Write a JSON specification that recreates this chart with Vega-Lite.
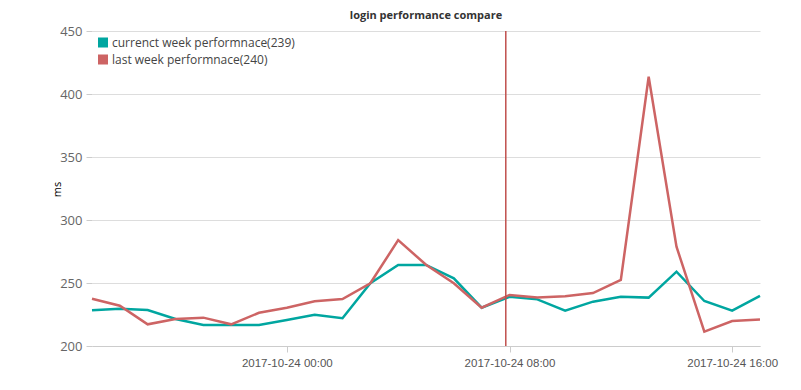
{
  "$schema": "https://vega.github.io/schema/vega-lite/v6.json",
  "autosize": "none",
  "width": 668,
  "height": 315,
  "padding": {"left": 92, "top": 31, "right": 41, "bottom": 44},
  "background": "white",
  "title": {"text": "login performance compare", "fontSize": 11, "fontWeight": "bold", "color": "#333333", "font": "Open Sans", "anchor": "middle", "offset": 4},
  "config": {"view": {"stroke": null}},
  "datasets": {
    "perf": [
      {"time": "2017-10-23T17:00:00Z", "series": "currenct week performnace(239)", "ms": 228.3},
      {"time": "2017-10-23T18:00:00Z", "series": "currenct week performnace(239)", "ms": 229.6},
      {"time": "2017-10-23T19:00:00Z", "series": "currenct week performnace(239)", "ms": 228.6},
      {"time": "2017-10-23T20:00:00Z", "series": "currenct week performnace(239)", "ms": 221.4},
      {"time": "2017-10-23T21:00:00Z", "series": "currenct week performnace(239)", "ms": 216.7},
      {"time": "2017-10-23T22:00:00Z", "series": "currenct week performnace(239)", "ms": 216.7},
      {"time": "2017-10-23T23:00:00Z", "series": "currenct week performnace(239)", "ms": 216.7},
      {"time": "2017-10-24T00:00:00Z", "series": "currenct week performnace(239)", "ms": 220.6},
      {"time": "2017-10-24T01:00:00Z", "series": "currenct week performnace(239)", "ms": 224.8},
      {"time": "2017-10-24T02:00:00Z", "series": "currenct week performnace(239)", "ms": 222.0},
      {"time": "2017-10-24T03:00:00Z", "series": "currenct week performnace(239)", "ms": 249.8},
      {"time": "2017-10-24T04:00:00Z", "series": "currenct week performnace(239)", "ms": 264.3},
      {"time": "2017-10-24T05:00:00Z", "series": "currenct week performnace(239)", "ms": 264.3},
      {"time": "2017-10-24T06:00:00Z", "series": "currenct week performnace(239)", "ms": 253.7},
      {"time": "2017-10-24T07:00:00Z", "series": "currenct week performnace(239)", "ms": 230.4},
      {"time": "2017-10-24T08:00:00Z", "series": "currenct week performnace(239)", "ms": 239.1},
      {"time": "2017-10-24T09:00:00Z", "series": "currenct week performnace(239)", "ms": 237.0},
      {"time": "2017-10-24T10:00:00Z", "series": "currenct week performnace(239)", "ms": 228.0},
      {"time": "2017-10-24T11:00:00Z", "series": "currenct week performnace(239)", "ms": 235.2},
      {"time": "2017-10-24T12:00:00Z", "series": "currenct week performnace(239)", "ms": 239.1},
      {"time": "2017-10-24T13:00:00Z", "series": "currenct week performnace(239)", "ms": 238.4},
      {"time": "2017-10-24T14:00:00Z", "series": "currenct week performnace(239)", "ms": 259.0},
      {"time": "2017-10-24T15:00:00Z", "series": "currenct week performnace(239)", "ms": 235.7},
      {"time": "2017-10-24T16:00:00Z", "series": "currenct week performnace(239)", "ms": 228.0},
      {"time": "2017-10-24T17:00:00Z", "series": "currenct week performnace(239)", "ms": 239.7},
      {"time": "2017-10-23T17:00:00Z", "series": "last week performnace(240)", "ms": 237.5},
      {"time": "2017-10-23T18:00:00Z", "series": "last week performnace(240)", "ms": 232.0},
      {"time": "2017-10-23T19:00:00Z", "series": "last week performnace(240)", "ms": 217.2},
      {"time": "2017-10-23T20:00:00Z", "series": "last week performnace(240)", "ms": 221.4},
      {"time": "2017-10-23T21:00:00Z", "series": "last week performnace(240)", "ms": 222.5},
      {"time": "2017-10-23T22:00:00Z", "series": "last week performnace(240)", "ms": 217.2},
      {"time": "2017-10-23T23:00:00Z", "series": "last week performnace(240)", "ms": 226.4},
      {"time": "2017-10-24T00:00:00Z", "series": "last week performnace(240)", "ms": 230.4},
      {"time": "2017-10-24T01:00:00Z", "series": "last week performnace(240)", "ms": 235.5},
      {"time": "2017-10-24T02:00:00Z", "series": "last week performnace(240)", "ms": 237.3},
      {"time": "2017-10-24T03:00:00Z", "series": "last week performnace(240)", "ms": 249.8},
      {"time": "2017-10-24T04:00:00Z", "series": "last week performnace(240)", "ms": 284.0},
      {"time": "2017-10-24T05:00:00Z", "series": "last week performnace(240)", "ms": 264.5},
      {"time": "2017-10-24T06:00:00Z", "series": "last week performnace(240)", "ms": 249.8},
      {"time": "2017-10-24T07:00:00Z", "series": "last week performnace(240)", "ms": 230.4},
      {"time": "2017-10-24T08:00:00Z", "series": "last week performnace(240)", "ms": 240.5},
      {"time": "2017-10-24T09:00:00Z", "series": "last week performnace(240)", "ms": 238.4},
      {"time": "2017-10-24T10:00:00Z", "series": "last week performnace(240)", "ms": 239.4},
      {"time": "2017-10-24T11:00:00Z", "series": "last week performnace(240)", "ms": 242.0},
      {"time": "2017-10-24T12:00:00Z", "series": "last week performnace(240)", "ms": 252.4},
      {"time": "2017-10-24T13:00:00Z", "series": "last week performnace(240)", "ms": 413.7},
      {"time": "2017-10-24T14:00:00Z", "series": "last week performnace(240)", "ms": 278.8},
      {"time": "2017-10-24T15:00:00Z", "series": "last week performnace(240)", "ms": 211.4},
      {"time": "2017-10-24T16:00:00Z", "series": "last week performnace(240)", "ms": 219.8},
      {"time": "2017-10-24T17:00:00Z", "series": "last week performnace(240)", "ms": 221.0}
    ],
    "marker": [
      {"time": "2017-10-24T07:52:00Z"}
    ]
  },
  "encoding": {
    "x": {
      "field": "time", "type": "temporal",
      "scale": {"type": "utc", "domain": [{"year": 2017, "month": 10, "date": 23, "hours": 17, "utc": true}, {"year": 2017, "month": 10, "date": 24, "hours": 17, "utc": true}], "nice": false},
      "axis": {
        "title": null,
        "values": [{"year": 2017, "month": 10, "date": 24, "hours": 0, "utc": true}, {"year": 2017, "month": 10, "date": 24, "hours": 8, "utc": true}, {"year": 2017, "month": 10, "date": 24, "hours": 16, "utc": true}],
        "labelExpr": "utcFormat(datum.value, '%Y-%m-%d %H:%M')",
        "grid": false, "domainColor": "#cccccc", "tickColor": "#cccccc", "tickSize": 6,
        "labelColor": "#555555", "labelFont": "Liberation Sans", "labelFontSize": 11.5, "labelPadding": 5
      }
    }
  },
  "layer": [
    {
      "data": {"name": "perf"},
      "mark": {"type": "line", "strokeWidth": 2.5},
      "encoding": {
        "y": {
          "field": "ms", "type": "quantitative",
          "scale": {"domain": [200, 450], "nice": false, "zero": false},
          "axis": {
            "title": "ms", "titleFont": "Open Sans", "titleFontSize": 11, "titleFontWeight": "normal", "titleColor": "#000000",
            "titleX": -35, "titleY": 158, "titleAngle": -90, "titleBaseline": "middle", "titleAlign": "center",
            "values": [200, 250, 300, 350, 400, 450],
            "domain": false, "tickColor": "#cccccc", "tickSize": 6,
            "gridColor": "#dddddd", "labelColor": "#666666", "labelFont": "Open Sans", "labelFontSize": 13, "labelPadding": 4
          }
        },
        "color": {
          "field": "series", "type": "nominal",
          "scale": {"domain": ["currenct week performnace(239)", "last week performnace(240)"], "range": ["#00a6a0", "#cd6464"]},
          "legend": {
            "title": null, "orient": "top-left", "offset": 5, "padding": 0,
            "symbolType": "square", "symbolSize": 25, "symbolStrokeWidth": 5, "symbolOpacity": 1,
            "labelFont": "Open Sans", "labelFontSize": 12, "labelColor": "#444444", "labelOffset": 3, "labelLimit": 400, "rowPadding": 4, "clipHeight": 13
          }
        }
      }
    },
    {
      "data": {"name": "marker"},
      "mark": {"type": "rule", "color": "#c0504d", "strokeWidth": 1.5},
      "encoding": {}
    }
  ]
}
